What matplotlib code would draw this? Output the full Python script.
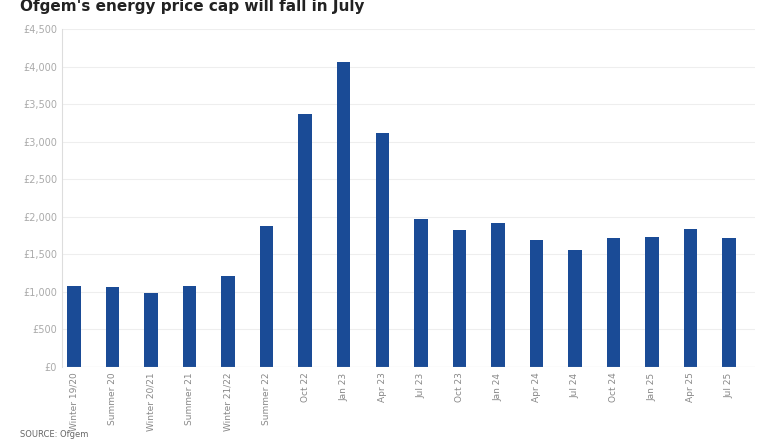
import matplotlib
matplotlib.use("Agg")
import matplotlib.pyplot as plt
from matplotlib.ticker import FuncFormatter

categories = ["Winter 19/20", "Summer 20", "Winter 20/21", "Summer 21", "Winter 21/22",
              "Summer 22", "Oct 22", "Jan 23", "Apr 23", "Jul 23", "Oct 23", "Jan 24",
              "Apr 24", "Jul 24", "Oct 24", "Jan 25", "Apr 25", "Jul 25"]
values = [1079, 1065, 985, 1079, 1212, 1877, 3369, 4061, 3116, 1971, 1824, 1917,
          1691, 1558, 1718, 1731, 1838, 1718]
yticks = [0, 500, 1000, 1500, 2000, 2500, 3000, 3500, 4000, 4500]

fig = plt.figure(figsize=(7.8, 4.4), dpi=100)
ax = fig.add_axes([62/780, 73/440, 693/780, 338/440])
ax.bar(range(len(categories)), values, width=0.35, color="#1a4b96", zorder=3)
ax.set_xlim(-0.31, len(categories) - 1 + 0.67)
ax.set_ylim(0, 4500)
ax.set_yticks(yticks)
ax.yaxis.set_major_formatter(FuncFormatter(lambda v, p: f"£{int(v):,}"))
ax.set_xticks(range(len(categories)))
ax.set_xticklabels(categories, rotation=90, fontsize=6.5, color="#888888")
ax.tick_params(axis="y", labelsize=7, colors="#aaaaaa", length=0)
ax.tick_params(axis="x", length=0, pad=4)
ax.grid(axis="y", color="#eeeeee", linewidth=0.8, zorder=0)
for s in ["top", "right", "bottom"]:
    ax.spines[s].set_visible(False)
ax.spines["left"].set_color("#dddddd")
ax.axhline(0, color="#cccccc", linewidth=0.8, zorder=4)
fig.text(20/780, 1 - 6/440, "Ofgem's energy price cap will fall in July", fontsize=11,
         fontweight="semibold", color="#222222", va="center", ha="left")
fig.text(20/780, 1 - 434/440, "SOURCE: Ofgem", fontsize=6, color="#666666", va="center")
fig.savefig("out.png", dpi=100)
